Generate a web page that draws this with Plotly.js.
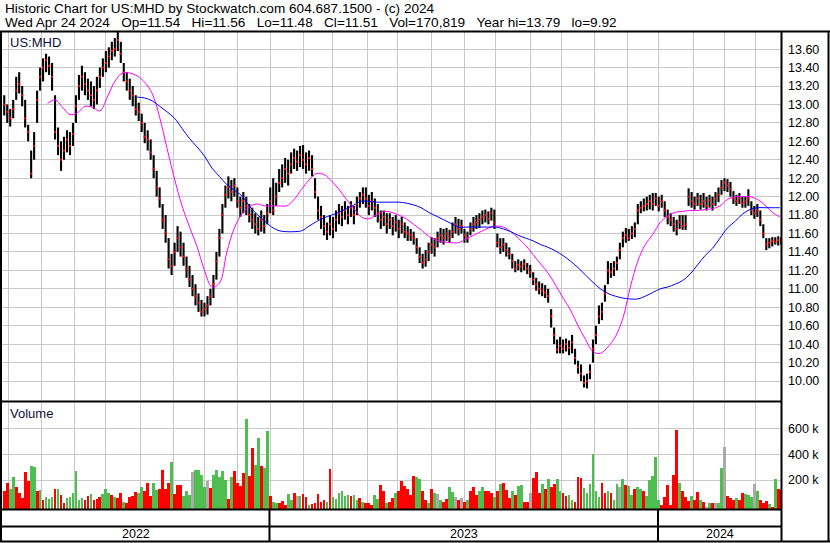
<!DOCTYPE html>
<html><head><meta charset="utf-8">
<script src="https://cdn.plot.ly/plotly-3.0.1.min.js"></script>
<style>html,body{margin:0;padding:0;background:#fff;}#chart{width:830px;height:543px;}</style>
</head><body><div id="chart"></div>
<script>
// ---------- DATA (2-trading-day resolution, US:MHD) ----------
const startDate = '2022-04-26';
const endDate = '2024-04-24';

const closes = [
13.00,12.92,12.85,12.95,13.15,13.22,13.10,12.85,12.70,12.25,
12.55,13.05,13.30,13.40,13.48,13.42,13.30,12.70,12.55,12.40,
12.50,12.62,12.55,12.68,12.98,13.20,13.30,13.22,13.15,13.10,
13.05,13.15,13.30,13.40,13.45,13.52,13.58,13.60,13.70,13.55,
13.35,13.25,13.15,13.10,12.95,12.92,12.80,12.65,12.62,12.48,
12.30,12.10,11.98,11.75,11.60,11.32,11.25,11.40,11.55,11.45,
11.35,11.22,11.10,11.00,10.92,10.85,10.75,10.78,10.82,10.92,
11.05,11.30,11.55,11.80,12.02,12.10,12.05,12.12,11.95,11.88,
11.95,11.90,11.80,11.75,11.70,11.65,11.75,11.68,11.82,11.95,
11.85,12.00,12.15,12.20,12.30,12.25,12.35,12.42,12.38,12.45,
12.40,12.35,12.42,12.30,12.05,11.85,11.78,11.68,11.62,11.70,
11.65,11.75,11.82,11.78,11.85,11.80,11.88,11.80,11.92,11.98,
12.02,11.98,11.90,11.95,11.88,11.82,11.75,11.78,11.70,11.75,
11.68,11.72,11.65,11.70,11.62,11.60,11.58,11.55,11.45,11.35,
11.28,11.32,11.40,11.48,11.45,11.55,11.58,11.55,11.60,11.56,
11.62,11.70,11.65,11.68,11.58,11.55,11.65,11.70,11.72,11.75,
11.78,11.80,11.76,11.82,11.72,11.50,11.45,11.48,11.42,11.38,
11.30,11.22,11.26,11.24,11.27,11.22,11.18,11.10,11.05,11.00,
10.98,10.96,10.92,10.70,10.50,10.34,10.38,10.35,10.40,10.36,
10.42,10.25,10.15,10.08,9.98,10.00,10.10,10.35,10.50,10.70,
10.75,10.95,11.20,11.18,11.22,11.28,11.42,11.55,11.58,11.55,
11.60,11.65,11.85,11.88,11.90,11.92,11.95,11.92,11.98,11.90,
11.95,11.85,11.78,11.75,11.70,11.65,11.72,11.68,11.70,12.00,
11.95,11.92,11.98,11.92,11.95,11.90,11.96,11.92,11.98,12.02,
12.10,12.15,12.12,12.08,11.98,11.95,11.98,11.93,11.95,11.98,
11.85,11.82,11.85,11.75,11.60,11.48,11.50,11.52,11.51,11.53,11.51];

const highs = [
13.10,13.00,12.95,13.05,13.30,13.35,13.20,13.05,12.78,12.50,
12.70,13.15,13.40,13.50,13.55,13.52,13.45,13.10,12.75,12.60,
12.65,12.72,12.70,12.80,13.10,13.32,13.42,13.35,13.28,13.25,
13.20,13.30,13.40,13.50,13.58,13.62,13.68,13.72,13.79,13.68,
13.45,13.35,13.28,13.20,13.10,13.02,12.90,12.80,12.72,12.62,
12.45,12.28,12.10,11.92,11.80,11.55,11.38,11.50,11.68,11.62,
11.50,11.35,11.25,11.15,11.05,10.95,10.88,10.85,10.92,11.00,
11.15,11.40,11.65,11.92,12.12,12.22,12.18,12.20,12.10,12.00,
12.05,12.00,11.92,11.88,11.82,11.78,11.85,11.80,11.92,12.10,
12.20,12.15,12.30,12.35,12.42,12.40,12.48,12.52,12.50,12.55,
12.56,12.48,12.50,12.45,12.20,12.00,11.90,11.80,11.72,11.80,
11.78,11.85,11.92,11.90,11.95,11.90,11.95,11.90,12.00,12.05,
12.10,12.10,12.02,12.05,11.98,11.92,11.85,11.85,11.82,11.82,
11.78,11.80,11.75,11.78,11.72,11.68,11.65,11.62,11.55,11.45,
11.38,11.42,11.50,11.56,11.55,11.62,11.66,11.65,11.66,11.64,
11.72,11.78,11.76,11.75,11.65,11.62,11.72,11.78,11.80,11.82,
11.85,11.86,11.84,11.88,11.86,11.60,11.55,11.55,11.50,11.45,
11.38,11.30,11.32,11.30,11.32,11.28,11.26,11.18,11.12,11.08,
11.06,11.04,11.00,10.78,10.58,10.45,10.48,10.45,10.46,10.44,
10.50,10.35,10.22,10.18,10.06,10.08,10.18,10.45,10.60,10.82,
10.85,11.04,11.30,11.28,11.30,11.35,11.50,11.62,11.66,11.65,
11.68,11.72,11.92,11.95,11.98,12.00,12.02,12.04,12.04,12.00,
12.02,11.95,11.86,11.82,11.78,11.75,11.80,11.80,11.80,12.09,
12.05,12.00,12.04,12.02,12.04,12.00,12.02,12.00,12.05,12.10,
12.18,12.20,12.19,12.16,12.06,12.02,12.04,12.00,12.00,12.08,
11.95,11.90,11.92,11.85,11.70,11.55,11.55,11.56,11.56,11.57,11.56];

const lows = [
12.88,12.80,12.76,12.85,13.05,13.12,12.98,12.75,12.60,12.20,
12.40,12.80,13.15,13.25,13.35,13.32,13.15,12.62,12.45,12.28,
12.40,12.48,12.45,12.55,12.80,13.05,13.15,13.10,13.05,12.98,
12.95,13.00,13.18,13.30,13.35,13.40,13.48,13.52,13.58,13.45,
13.25,13.15,13.05,12.98,12.88,12.82,12.70,12.58,12.50,12.40,
12.20,12.00,11.88,11.65,11.50,11.22,11.15,11.25,11.40,11.35,
11.25,11.12,11.02,10.92,10.82,10.75,10.70,10.70,10.72,10.82,
10.90,11.10,11.35,11.60,11.88,11.98,11.95,12.00,11.88,11.78,
11.82,11.80,11.72,11.65,11.60,11.58,11.62,11.60,11.70,11.82,
11.80,11.90,12.05,12.10,12.15,12.12,12.25,12.30,12.28,12.32,
12.30,12.25,12.28,12.22,11.98,11.75,11.65,11.58,11.53,11.58,
11.55,11.62,11.70,11.68,11.75,11.70,11.78,11.70,11.80,11.88,
11.92,11.88,11.80,11.85,11.78,11.72,11.65,11.68,11.60,11.65,
11.58,11.62,11.55,11.60,11.55,11.52,11.52,11.48,11.38,11.28,
11.22,11.24,11.30,11.38,11.35,11.45,11.50,11.48,11.52,11.50,
11.55,11.60,11.58,11.60,11.50,11.50,11.58,11.62,11.65,11.66,
11.70,11.72,11.70,11.74,11.65,11.45,11.38,11.40,11.35,11.32,
11.22,11.18,11.20,11.18,11.20,11.16,11.12,11.04,10.98,10.94,
10.92,10.90,10.85,10.58,10.40,10.30,10.30,10.30,10.32,10.28,
10.30,10.18,10.08,10.00,9.93,9.92,10.02,10.20,10.40,10.62,
10.66,10.86,11.05,11.12,11.14,11.20,11.32,11.45,11.50,11.52,
11.54,11.56,11.70,11.82,11.84,11.85,11.86,11.85,11.90,11.84,
11.88,11.78,11.70,11.68,11.62,11.58,11.65,11.64,11.64,11.90,
11.88,11.86,11.90,11.86,11.88,11.85,11.88,11.85,11.90,11.94,
12.02,12.06,12.05,12.00,11.92,11.90,11.92,11.88,11.88,11.90,
11.80,11.76,11.78,11.68,11.55,11.42,11.44,11.46,11.48,11.47,11.48];

// volume in thousands of shares, per 2-day point
const volumeK = [
136,205,154,247,169,123,84,283,213,330,
324,136,149,71,92,80,95,154,154,110,
45,89,92,123,293,71,84,71,97,118,
71,75,92,118,154,123,110,92,84,123,
58,45,92,97,128,123,174,136,205,97,
200,150,154,304,154,200,361,118,187,187,
97,136,110,286,304,304,265,174,213,162,
265,304,250,291,226,76,247,291,200,180,
278,696,252,472,342,549,330,317,601,102,
58,45,45,60,32,118,71,123,97,97,
118,90,32,40,45,118,58,71,58,309,
95,76,123,136,102,110,97,110,71,84,
58,50,45,32,110,80,187,143,45,58,
84,123,143,213,180,154,110,252,247,230,
136,71,45,154,123,118,66,58,80,169,
128,92,71,84,58,66,136,169,110,136,
174,143,143,123,92,143,195,200,150,84,
143,110,180,187,58,58,123,239,283,120,
195,154,231,169,195,231,143,123,97,110,
71,58,247,239,162,123,195,425,143,90,
200,123,136,123,71,195,169,231,187,180,
110,154,169,154,143,100,221,257,402,71,
32,92,187,32,265,614,205,143,92,60,
97,71,128,71,58,14,45,45,45,45,
317,480,102,84,66,84,71,123,118,110,
90,193,136,71,50,60,40,19,231,154,150];

// g = up, r = down, n = unchanged
const volumeDir =
"rrggrrrrrg"+"grgrgggrgr"+"rggggggrrg"+"rrrgggrgrr"+"grrrrggrrr"+
"ggrrrrgrrr"+"gggnggggnr"+"gggggrgrrr"+"rgrrggrggr"+"ggrrrggrng"+
"rrgrrrrrgr"+"ggggggrggr"+"grrrggrrgr"+"rgrrrrrrgg"+
"rrgrgngrrg"+"gnrnrgrrrg"+"grrrgrgrrr"+"grggrrnrrr"+"grgrrggrrg"+
"grrrgggggg"+"rrgrggngrg"+"grggrggggg"+"rrrrrrgrrr"+"grrgrngrng"+
"gnrrrgrrgg"+"gngrrrgrgrr";

// moving averages, one value per 5 trading days
const maFastStartWeek = 6;
const maFast = [
13.01,13.05,12.97,12.89,12.91,12.98,12.97,12.93,13.08,13.25,
13.34,13.34,13.31,13.24,13.12,12.86,12.52,12.19,11.90,11.67,
11.46,11.20,11.02,11.06,11.40,11.66,11.81,11.89,11.92,11.90,
11.90,11.90,11.90,11.97,12.08,12.18,12.25,12.24,12.17,12.08,
11.97,11.87,11.78,11.76,11.80,11.84,11.83,11.80,11.76,11.70,
11.64,11.57,11.53,11.51,11.50,11.50,11.54,11.58,11.62,11.66,
11.68,11.67,11.62,11.55,11.47,11.37,11.27,11.17,11.04,10.90,
10.77,10.60,10.45,10.32,10.30,10.37,10.48,10.68,11.02,11.30,
11.48,11.59,11.72,11.79,11.83,11.84,11.85,11.85,11.86,11.87,
11.90,11.97,12.00,12.00,12.00,11.97,11.91,11.83,11.78];
const maSlowStartWeek = 18;
const maSlow = [
13.08,13.07,13.04,12.98,12.92,12.85,12.74,12.63,12.54,12.44,
12.31,12.22,12.13,12.07,12.01,11.90,11.81,11.74,11.67,11.63,
11.62,11.62,11.63,11.68,11.73,11.77,11.80,11.83,11.87,11.91,
11.95,11.95,11.94,11.94,11.94,11.94,11.93,11.91,11.88,11.83,
11.79,11.75,11.71,11.67,11.67,11.67,11.67,11.67,11.67,11.65,
11.62,11.58,11.55,11.52,11.48,11.45,11.41,11.36,11.30,11.23,
11.15,11.07,11.00,10.95,10.92,10.90,10.89,10.89,10.92,10.96,
11.00,11.02,11.05,11.09,11.16,11.26,11.36,11.44,11.55,11.66,
11.73,11.81,11.86,11.88,11.88,11.88,11.88];

const priceTicks = [10.0,10.2,10.4,10.6,10.8,11.0,11.2,11.4,11.6,11.8,12.0,12.2,12.4,12.6,12.8,13.0,13.2,13.4,13.6];
const volumeTicks = [200,400,600];
const yearLabels = ['2022','2023','2024'];
const headerLine1 = 'Historic Chart for US:MHD by Stockwatch.com 604.687.1500 - (c) 2024';
const headerFields = ['Wed Apr 24 2024','Op=11.54','Hi=11.56','Lo=11.48','Cl=11.51','Vol=170,819','Year hi=13.79','lo=9.92'];

// ---------- BUILD ----------
function weekdays(a, b) {
  const out = []; let d = new Date(a + 'T00:00:00Z'); const e = new Date(b + 'T00:00:00Z');
  while (d <= e) { const w = d.getUTCDay(); if (w !== 0 && w !== 6) out.push(d.toISOString().slice(0, 10)); d = new Date(d.getTime() + 86400000); }
  return out;
}
const days = weekdays(startDate, endDate);
const N = days.length;
const pDates = closes.map((_, k) => days[Math.min(2 * k + 1, N - 1)]);

const segX = [], segY = [];
pDates.forEach((d, i) => { segX.push(d, d, null); segY.push(lows[i], highs[i], null); });

const dirColor = { g: '#4fbd4f', r: '#ff0000', n: '#aaaaaa' };
const volColors = volumeK.map((_, i) => dirColor[volumeDir[i]] || '#ff0000');

const fastDates = maFast.map((_, i) => days[5 * (i + maFastStartWeek)]);
const slowDates = maSlow.map((_, i) => days[5 * (i + maSlowStartWeek)]);

const monthStarts = [], yearStarts = [];
for (let i = 1; i < N; i++) {
  if (days[i].slice(5, 7) !== days[i - 1].slice(5, 7)) monthStarts.push(days[i]);
  if (days[i].slice(0, 4) !== days[i - 1].slice(0, 4)) yearStarts.push(i);
}

const F = '"Liberation Sans", Arial, Helvetica, sans-serif';
const VMIN = -24.4, VMAX = 795.7;

const traces = [
  { type: 'bar', x: pDates, y: volumeK, base: VMIN, width: 1.85, xaxis: 'x', yaxis: 'y2',
    marker: { color: volColors, line: { width: 0 } }, hoverinfo: 'skip' },
  { type: 'scatter', mode: 'lines', x: segX, y: segY, xaxis: 'x', yaxis: 'y',
    line: { color: '#000', width: 2.1 }, hoverinfo: 'skip', connectgaps: false },
  { type: 'scatter', mode: 'markers', x: pDates, y: closes, xaxis: 'x', yaxis: 'y',
    marker: { color: '#ff0000', size: 2, symbol: 'square', line: { width: 0 } }, hoverinfo: 'skip' },
  { type: 'scatter', mode: 'lines', x: fastDates, y: maFast, xaxis: 'x', yaxis: 'y',
    line: { color: '#ff00ff', width: 1, shape: 'spline' }, hoverinfo: 'skip' },
  { type: 'scatter', mode: 'lines', x: slowDates, y: maSlow, xaxis: 'x', yaxis: 'y',
    line: { color: '#0000ff', width: 1, shape: 'spline' }, hoverinfo: 'skip' }
];

const px = p => (p - 2) / 780;
const py = p => (509 - p) / 477;
const K = '#000';
const hline = (y, x0, x1) => ({ type: 'line', xref: 'paper', yref: 'paper', x0: px(x0), x1: px(x1), y0: py(y), y1: py(y), line: { color: K, width: 2 } });
const vline = (x, y0, y1) => ({ type: 'line', xref: 'paper', yref: 'paper', x0: px(x), x1: px(x), y0: py(y0), y1: py(y1), line: { color: K, width: 2 } });

const shapes = [
  hline(31.5, 0, 830), hline(401.5, 0, 782), hline(509.5, 0, 782), hline(526.5, 0, 782), hline(541.5, 0, 830),
  vline(1, 31, 542), vline(781.5, 31, 542), vline(828.5, 31, 542)
];
yearStarts.forEach(i => { shapes.push({ type: 'line', xref: 'paper', yref: 'paper', x0: i / N, x1: i / N, y0: py(509), y1: py(542), line: { color: K, width: 2 } }); });

const txt = (text, x, y, extra) => Object.assign({ text, xref: 'paper', yref: 'paper', x: px(x), y: py(y), xanchor: 'left', yanchor: 'middle', showarrow: false, font: { family: F, size: 13, color: '#000' } }, extra || {});
const sp = '\u00a0\u00a0\u00a0';
const annotations = [
  txt(headerLine1, 3, 8.5, { font: { family: F, size: 13.6, color: '#000' } }),
  txt(headerFields.join(sp), 3, 22.5, { font: { family: F, size: 13.6, color: '#000' } }),
  txt('US:MHD', 8, 42, { font: { family: F, size: 13, color: '#10103a' } }),
  txt('Volume', 8, 413, { font: { family: F, size: 13, color: '#10103a' } })
];
const bounds = [0].concat(yearStarts).concat([N]);
yearLabels.forEach((lab, i) => {
  const c = (bounds[i] + bounds[i + 1]) / 2 / N;
  annotations.push({ text: lab, xref: 'paper', yref: 'paper', x: c, y: py(534), xanchor: 'center', yanchor: 'middle', showarrow: false, font: { family: F, size: 12.5, color: '#000' } });
});

const layout = {
  width: 830, height: 543,
  margin: { l: 2, r: 48, t: 32, b: 34, pad: 0 },
  paper_bgcolor: '#fff', plot_bgcolor: '#fff',
  showlegend: false, bargap: 0,
  font: { family: F, size: 12, color: '#000' },
  xaxis: { type: 'category', categoryorder: 'array', categoryarray: days, range: [-0.5, N - 0.5],
    tickmode: 'array', tickvals: monthStarts, showticklabels: false, ticks: '',
    showgrid: true, gridcolor: '#c8c8c8', gridwidth: 1, zeroline: false, showline: false, fixedrange: true, anchor: 'y2' },
  yaxis: { domain: [0.2285, 1], range: [9.794, 13.786], side: 'right', anchor: 'x',
    tickmode: 'array', tickvals: priceTicks, ticktext: priceTicks.map(v => v.toFixed(2)),
    ticks: '', ticklabelstandoff: 5, tickfont: { family: F, size: 12.5, color: '#000' },
    showgrid: true, gridcolor: '#c8c8c8', gridwidth: 1, zeroline: false, showline: false, fixedrange: true },
  yaxis2: { domain: [0, 0.2222], range: [VMIN, VMAX], side: 'right', anchor: 'x',
    tickmode: 'array', tickvals: volumeTicks, ticktext: volumeTicks.map(v => v + ' k'),
    ticks: '', ticklabelstandoff: 5, tickfont: { family: F, size: 12.5, color: '#000' },
    showgrid: true, gridcolor: '#c8c8c8', gridwidth: 1, zeroline: false, showline: false, fixedrange: true },
  shapes, annotations
};

Plotly.newPlot('chart', traces, layout, { staticPlot: true, displayModeBar: false });
</script></body></html>
